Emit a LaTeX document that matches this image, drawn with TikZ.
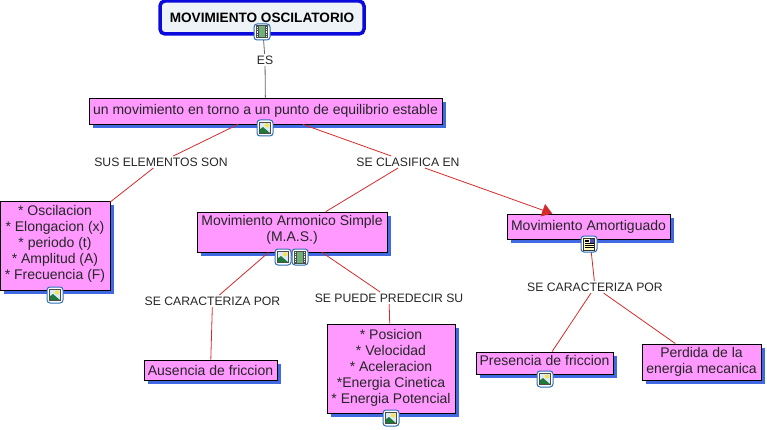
\documentclass[tikz,border=0pt]{standalone}
\usepackage{fontspec}
\setmainfont{Liberation Sans}
\usetikzlibrary{shadows,arrows.meta}
\definecolor{pinkfill}{HTML}{FF99FF}
\definecolor{shadowblue}{HTML}{4169E1}
\definecolor{linkred}{HTML}{D42A2A}
\definecolor{titleblue}{HTML}{0A0ADC}
\definecolor{titlefill}{HTML}{EEF3F7}
\definecolor{iconblue}{HTML}{2A6FB5}
\definecolor{filmgreen}{HTML}{6FAF78}
\definecolor{hillgreen}{HTML}{1F7A3A}
\definecolor{skyblue}{HTML}{DCEBFA}
\definecolor{sunyellow}{HTML}{F7E34A}
\newcommand{\lowpad}[1]{\rule[-#1pt]{0pt}{#1pt}}
\tikzset{
  x=1pt,y=-1pt,
  concept/.style={draw=black,line width=0.9pt,fill=pinkfill,inner sep=0pt,align=center,
    font=\fontsize{14}{16}\selectfont,text=black!85,
    general shadow={fill=shadowblue,shadow xshift=4pt,shadow yshift=-4pt}},
  titlebox/.style={draw=titleblue,line width=3.5pt,rounded corners=5pt,fill=titlefill,inner sep=0pt,
    font=\fontsize{13.6}{15}\selectfont\bfseries,text=black},
  linklabel/.style={inner sep=1.5pt,fill=white,font=\fontsize{12.2}{14}\selectfont,text=black!85},
  link/.style={draw=linkred,line width=0.8pt},
  toplink/.style={draw=black!60,line width=0.8pt},
  iconframe/.style={draw=iconblue,line width=1pt,rounded corners=3pt,fill=white},
  imgicon/.pic={
    \draw[iconframe] (-8,-8) rectangle (8,8);
    \fill[skyblue] (-5.5,-5.5) rectangle (5.5,5.5);
    \fill[sunyellow] (2,-2.6) circle (2.2);
    \fill[hillgreen] (-5.5,5.5) -- (-5.5,1.5) -- (-2,-1) -- (5.5,5.5) -- cycle;
    \draw[black!70,line width=0.5pt] (-5.5,-5.5) rectangle (5.5,5.5);
  },
  filmicon/.pic={
    \draw[iconframe] (-8,-8) rectangle (8,8);
    \fill[black!70] (-6,-6.5) rectangle (6,6.5);
    \fill[filmgreen] (-3.2,-5.5) rectangle (3.2,-0.4);
    \fill[filmgreen] (-3.2,0.4) rectangle (3.2,5.5);
    \foreach \yy in {-4.8,-2.4,0,2.4,4.8}{
      \fill[white] (-5.2,\yy-0.6) rectangle (-4.1,\yy+0.6);
      \fill[white] (4.1,\yy-0.6) rectangle (5.2,\yy+0.6);
    }
  },
  docicon/.pic={
    \draw[iconframe] (-8,-8) rectangle (8,8);
    \fill[yellow!25] (-5.5,-6) rectangle (5.5,6);
    \draw[black!80,line width=0.5pt] (-5.5,-6) rectangle (5.5,6);
    \fill[blue!40!gray] (0.5,-5.5) rectangle (5,-1);
    \foreach \yy in {-4.2,-2.4}{\draw[black,line width=0.6pt] (-4.5,\yy) -- (-0.5,\yy);}
    \foreach \yy in {-0.4,1.5,3.4}{\draw[black,line width=0.6pt] (-4.5,\yy) -- (4.5,\yy);}
  },
}
\begin{document}
\begin{tikzpicture}
\useasboundingbox (0,0) rectangle (767,430);
% concepts
\node[titlebox,minimum width=204pt,minimum height=33pt] (title) at (262,17.5) {MOVIMIENTO OSCILATORIO};
\node[concept,minimum width=353pt,minimum height=26pt] (main) at (265.5,111) {un movimiento en torno a un punto de equilibrio estable};
\node[concept,minimum width=110pt,minimum height=89pt] (osc) at (55,245.5) {* Oscilacion\\* Elongacion (x)\\* periodo (t)\\* Amplitud (A)\\* Frecuencia (F)\lowpad{6}};
\node[concept,minimum width=190pt,minimum height=40pt] (mas) at (292,232) {Movimiento Armonico Simple\\(M.A.S.)\lowpad{7}};
\node[concept,minimum width=163pt,minimum height=25pt] (amort) at (588.5,226.5) {Movimiento Amortiguado};
\node[concept,minimum width=133pt,minimum height=20pt] (aus) at (210.5,370) {Ausencia de friccion};
\node[concept,minimum width=128pt,minimum height=89pt] (pos) at (391,368.5) {* Posicion\\* Velocidad\\* Aceleracion\\*Energia Cinetica\\* Energia Potencial\lowpad{5}};
\node[concept,minimum width=137pt,minimum height=22pt] (pres) at (544.5,363) {Presencia de friccion\lowpad{5}};
\node[concept,minimum width=119pt,minimum height=36pt] (perd) at (701.5,362) {Perdida de la\\energia mecanica};
% link labels
\node[linklabel] (es) at (265,60) {ES};
\node[linklabel] (sus) at (161,162) {SUS ELEMENTOS SON};
\node[linklabel] (clas) at (408,162) {SE CLASIFICA EN};
\node[linklabel] (car1) at (212.5,301) {SE CARACTERIZA POR};
\node[linklabel] (pred) at (389,298) {SE PUEDE PREDECIR SU};
\node[linklabel] (car2) at (595,287) {SE CARACTERIZA POR};
% connectors
\draw[toplink] (title) -- (es);
\draw[toplink] (es) -- (main);
\draw[link] (main) -- (sus);
\draw[link] (sus) -- (osc);
\draw[link] (main) -- (clas);
\draw[link] (clas) -- (mas);
\draw[link,-{Triangle[length=10pt,width=13pt]}] (clas) -- (amort);
\draw[link] (mas) -- (car1);
\draw[link] (car1) -- (aus);
\draw[link] (mas) -- (pred);
\draw[link] (pred) -- (pos);
\draw[link] (amort) -- (car2);
\draw[link] (car2) -- (pres);
\draw[link] (car2) -- (perd);
% icons
\pic at (262,32) {filmicon};
\pic at (265,128) {imgicon};
\pic at (55,295) {imgicon};
\pic at (283,257) {imgicon};
\pic at (300,257) {filmicon};
\pic at (589,244) {docicon};
\pic at (545,379) {imgicon};
\pic at (391,418) {imgicon};
\end{tikzpicture}
\end{document}
